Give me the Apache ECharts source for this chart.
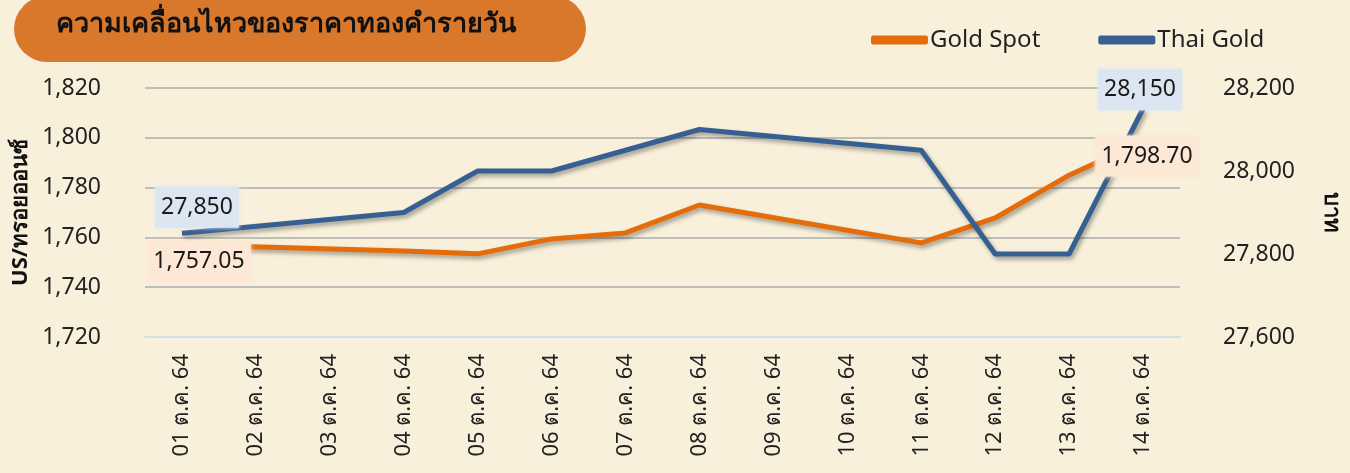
<!DOCTYPE html>
<html>
<head>
<meta charset="utf-8">
<script src="https://cdn.jsdelivr.net/npm/echarts@6/dist/echarts.min.js"></script>
<style>
  html, body { margin: 0; padding: 0; background: #f8f0db; }
  #chart { width: 1350px; height: 473px; }
</style>
</head>
<body>
<div id="chart"></div>
<script>
// ข้อมูลราคาทองรายวัน (วันหยุดเป็น null แล้วลากเส้นต่อ)
const categories = ['01 ต.ค. 64', '02 ต.ค. 64', '03 ต.ค. 64', '04 ต.ค. 64', '05 ต.ค. 64', '06 ต.ค. 64', '07 ต.ค. 64',
  '08 ต.ค. 64', '09 ต.ค. 64', '10 ต.ค. 64', '11 ต.ค. 64', '12 ต.ค. 64', '13 ต.ค. 64', '14 ต.ค. 64'];
const goldSpot = [1757.05, null, null, 1754.5, 1753.4, 1759.4, 1761.8, 1773, null, null, 1757.8, 1767.8, 1785, 1798.70];
const thaiGold = [27850, null, null, 27900, 28000, 28000, 28050, 28100, null, null, 28050, 27800, 27800, 28150];
const leftTicks = { min: 1720, max: 1820, interval: 20 };
const rightTicks = { min: 27600, max: 28200, interval: 200 };

const FONT = 'Tahoma, "Noto Sans", "DejaVu Sans", sans-serif';
const fmt = (v, d) => v.toLocaleString('en-US', { minimumFractionDigits: d, maximumFractionDigits: d });

// ป้ายตัวเลขเฉพาะจุดแรกกับจุดสุดท้าย
function edgeLabels(data, digits, bg, firstOffset, lastOffset) {
  return data.map((v, i) => {
    if (i !== 0 && i !== data.length - 1) return v;
    return {
      value: v,
      label: {
        show: true,
        position: 'inside',
        offset: i === 0 ? firstOffset : lastOffset,
        formatter: () => fmt(v, digits),
        fontFamily: FONT,
        fontSize: 23,
        color: '#1a1a1a',
        backgroundColor: bg,
        padding: [10, 6, 8, 6],
        shadowColor: bg,
        shadowBlur: 4
      }
    };
  });
}

const myChart = echarts.init(document.getElementById('chart'));
const option = {
  backgroundColor: '#f8f0db',
  animation: false,
  textStyle: { fontFamily: FONT },
  graphic: [
    {
      type: 'rect',
      shape: { x: 14, y: -4, width: 572, height: 66, r: 33 },
      style: { fill: '#d9782b' }
    },
    {
      type: 'text',
      left: 56,
      top: 11,
      style: { text: 'ความเคลื่อนไหวของราคาทองคำรายวัน', font: 'bold 27px ' + FONT, fill: '#111' }
    }
  ],
  legend: {
    left: 866,
    top: 23,
    itemWidth: 57,
    itemHeight: 9,
    itemGap: 58,
    icon: 'roundRect',
    textStyle: { fontSize: 24, color: '#222', padding: [0, 0, 0, -3] },
    data: ['Gold Spot', 'Thai Gold']
  },
  grid: { left: 145, right: 163, top: 88, bottom: 136 },
  xAxis: {
    type: 'category',
    data: categories,
    boundaryGap: true,
    axisLine: { lineStyle: { color: '#d4dde9', width: 2 } },
    axisTick: { show: false },
    axisLabel: { rotate: 90, margin: 17, fontSize: 22, color: '#222', interval: 0 }
  },
  yAxis: [
    {
      type: 'value',
      min: leftTicks.min,
      max: leftTicks.max,
      interval: leftTicks.interval,
      name: 'US/ทรอยออนซ์',
      nameLocation: 'middle',
      nameGap: 110,
      nameTextStyle: { fontSize: 22, fontWeight: 'bold', color: '#111' },
      axisLabel: { fontSize: 23, color: '#222', margin: 44, formatter: v => fmt(v, 0) },
      axisLine: { show: false },
      axisTick: { show: false },
      splitLine: { lineStyle: { color: '#bfbdb8', width: 2 } }
    },
    {
      type: 'value',
      min: rightTicks.min,
      max: rightTicks.max,
      interval: rightTicks.interval,
      name: 'บาท',
      nameLocation: 'middle',
      nameRotate: -90,
      nameGap: 140,
      nameTextStyle: { fontSize: 22, fontWeight: 'bold', color: '#111' },
      axisLabel: { fontSize: 23, color: '#222', margin: 43, formatter: v => fmt(v, 0) },
      axisLine: { show: false },
      axisTick: { show: false },
      splitLine: { show: false }
    }
  ],
  series: [
    {
      name: 'Gold Spot',
      type: 'line',
      yAxisIndex: 0,
      data: edgeLabels(goldSpot, 2, '#fde8d6', [17, 17], [4, 15]),
      connectNulls: true,
      showSymbol: true,
      symbol: 'circle',
      symbolSize: 0,
      color: '#e46c0a',
      lineStyle: { width: 5, color: '#e46c0a', shadowColor: 'rgba(0,0,0,0.35)', shadowBlur: 4, shadowOffsetX: 2, shadowOffsetY: 3 }
    },
    {
      name: 'Thai Gold',
      type: 'line',
      yAxisIndex: 1,
      data: edgeLabels(thaiGold, 0, '#dce6f2', [15, -26], [-3, -19]),
      connectNulls: true,
      showSymbol: true,
      symbol: 'circle',
      symbolSize: 0,
      color: '#376092',
      lineStyle: { width: 5, color: '#376092', shadowColor: 'rgba(0,0,0,0.35)', shadowBlur: 4, shadowOffsetX: 2, shadowOffsetY: 3 }
    }
  ]
};
myChart.setOption(option, true);
</script>
</body>
</html>
